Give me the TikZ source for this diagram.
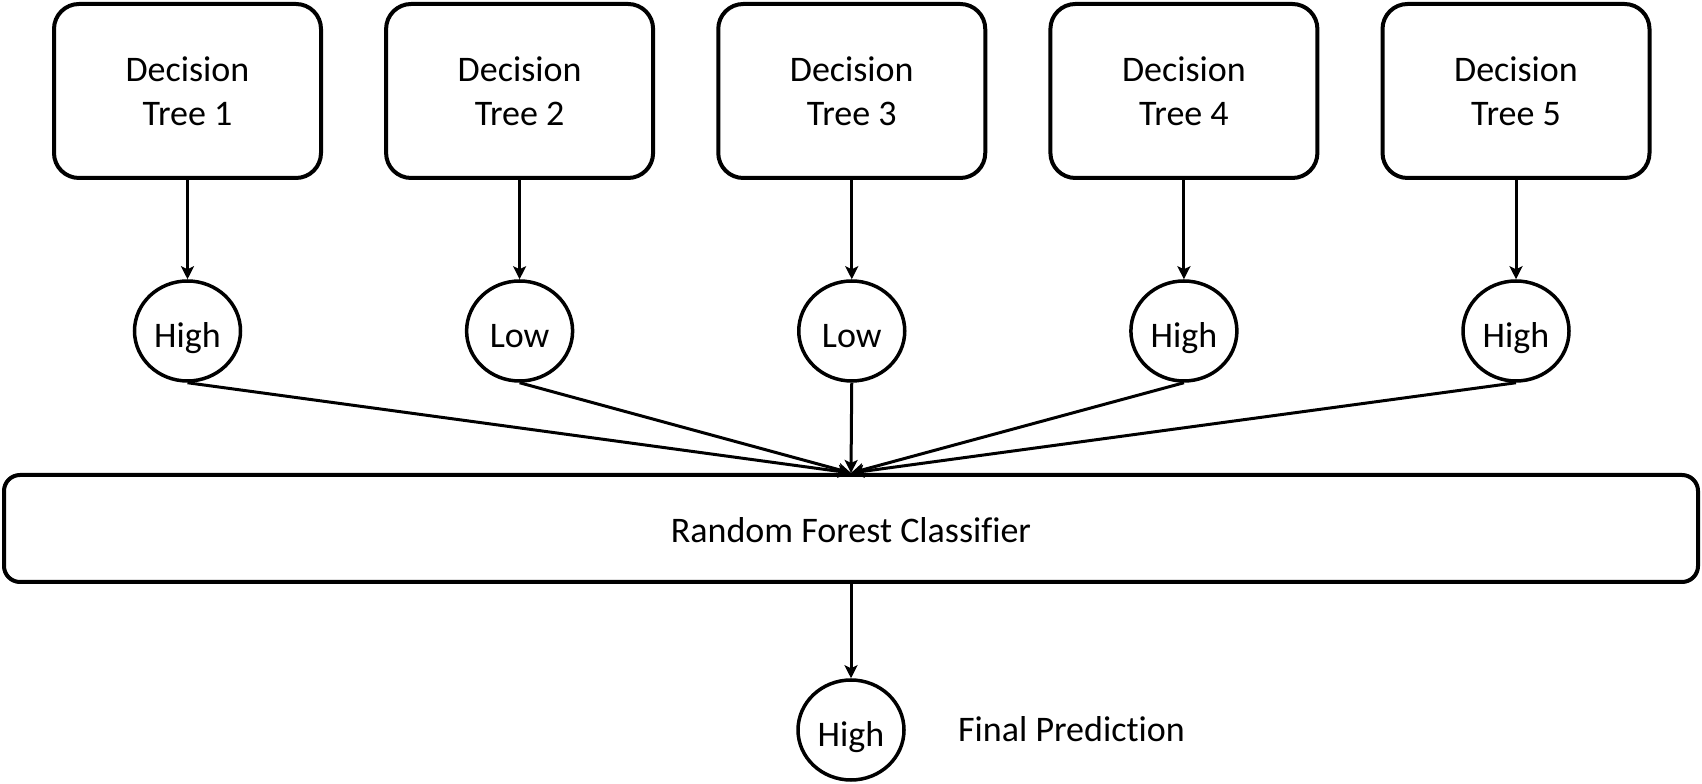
\documentclass[tikz,border=0pt]{standalone}
\usepackage{fontspec}
\setmainfont{Carlito}[Ligatures=NoCommon]
\usetikzlibrary{shapes.geometric,arrows.meta}
\begin{document}
\begin{tikzpicture}[x=1pt,y=1pt,
  treebox/.style={draw,line width=4pt,rounded corners=25pt,minimum width=267pt,minimum height=174pt,align=center,inner sep=0pt,font=\fontsize{36}{44}\selectfont},
  vote/.style={draw,ellipse,line width=3.5pt,minimum width=106pt,minimum height=100pt,inner sep=0pt,text height=34pt,text depth=0pt,font=\fontsize{36}{44}\selectfont},
  bigbox/.style={draw,line width=4pt,rounded corners=16pt,minimum width=1694pt,minimum height=107pt,inner sep=0pt,text height=29pt,text depth=0pt,font=\fontsize{36}{44}\selectfont},
  plain/.style={inner sep=0pt,font=\fontsize{36}{44}\selectfont},
  arr/.style={line width=3pt,-{Stealth[length=13pt,width=13pt,inset=3pt]}}]
\useasboundingbox (0,0) rectangle (1702,784);
\foreach \i/\x/\v in {1/187.5/High,2/519.6/Low,3/851.75/Low,4/1183.9/High,5/1516/High}{
  \node[treebox] (t\i) at (\x,693) {Decision\\Tree \i};
  \node[vote] (c\i) at (\x,453) {\v};
}
\node[bigbox] (rf) at (851,255.5) {Random Forest Classifier};
\node[vote] (fc) at (851,54) {High};
\node[plain,anchor=base west] (fp) at (958,42) {Final Prediction};
\foreach \i in {1,...,5}{
  \draw[arr] (t\i) -- (c\i);
  \draw[arr] (c\i.south) -- (rf.north);
}
\draw[arr] (rf.south) -- (fc.north);
\end{tikzpicture}
\end{document}
